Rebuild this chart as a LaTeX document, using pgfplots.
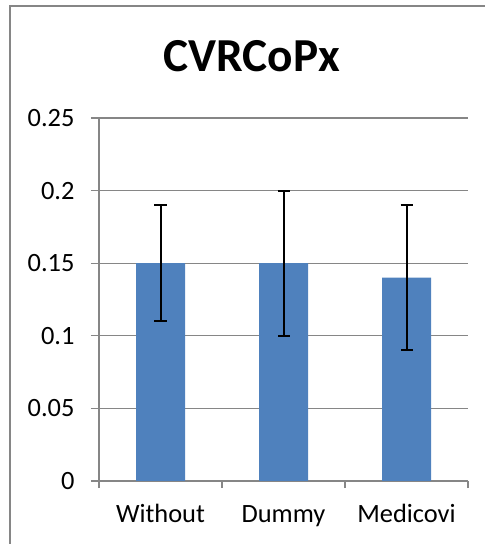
\documentclass[border=0pt]{standalone}
\usepackage{fontspec}
\setmainfont{Carlito}
\usepackage{pgfplots}
\pgfplotsset{compat=1.18}

\definecolor{barblue}{HTML}{4F81BD}
\definecolor{gridgray}{HTML}{868686}

\begin{document}
\begin{tikzpicture}
\path[use as bounding box] (0,0) rectangle (485bp,544bp);
% chart border (cut off at right and bottom in the reference)
\draw[gridgray, line width=1.5bp] (10bp,0) -- (10bp,538bp) -- (485bp,538bp);
\node[anchor=base, font=\fontsize{47.5}{52}\selectfont\bfseries] at (252bp,472bp) {CVRCoPx};
\begin{axis}[
	at={(99bp,63bp)}, anchor=south west,
	scale only axis,
	width=369bp, height=363bp,
	ybar, bar width=49bp,
	xmin=-0.5, xmax=2.5,
	ymin=0, ymax=0.25,
	ytick={0,0.05,0.1,0.15,0.2,0.25},
	yticklabels={0,0.05,0.1,0.15,0.2,0.25},
	xtick={0,1,2},
	xticklabels={Without,Dummy,Medicovi},
	minor xtick={-0.5,0.5,1.5,2.5},
	major x tick style={draw=none},
	tick align=outside,
	major tick length=8bp,
	minor tick length=7bp,
	tick style={gridgray, line width=1.2bp},
	axis x line*=bottom, axis y line*=left,
	axis line style={gridgray, line width=1.2bp},
	ymajorgrids,
	major grid style={gridgray, line width=1.2bp},
	ticklabel style={font=\fontsize{26.5}{30}\selectfont},
	yticklabel style={xshift=-13bp},
	xticklabel style={text height=18bp, text depth=6bp, yshift=-12bp},
	/pgf/number format/assume math mode=true,
]
\addplot[fill=barblue, draw=none,
	error bars/.cd, y dir=both, y explicit,
	error bar style={draw=black, line width=2bp},
	error mark options={draw=black, rotate=90, mark size=6bp, line width=2bp}]
	table[x=x, y=y, y error=e] {
x y e
0 0.15 0.04
1 0.15 0.05
2 0.14 0.05
};
\end{axis}
\end{tikzpicture}
\end{document}
